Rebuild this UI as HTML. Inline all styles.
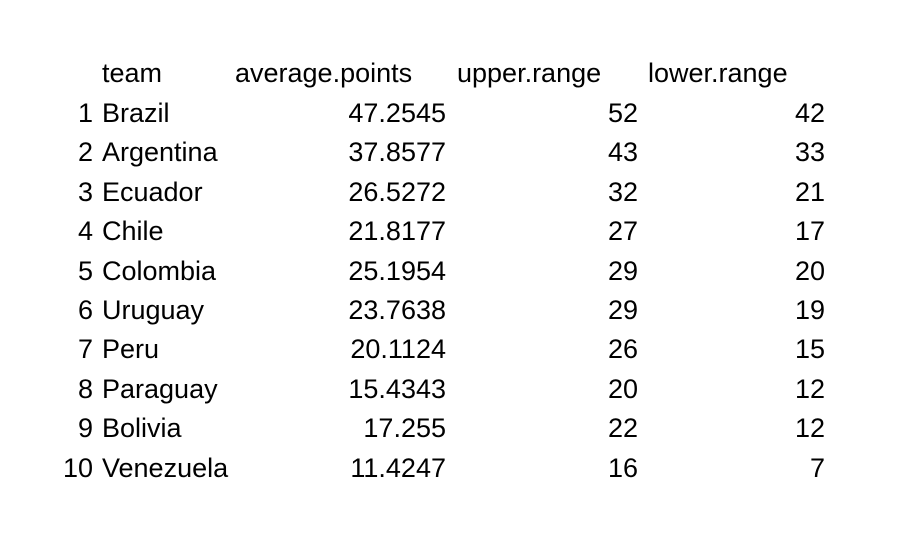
<!DOCTYPE html>
<html><head><meta charset="utf-8">
<style>
html,body{margin:0;padding:0;background:#fff;}
#wrap{position:relative;width:903px;height:535px;overflow:hidden;background:#fff;font-family:"Liberation Sans",sans-serif;font-size:27px;color:#000;}
.c{position:absolute;height:30px;line-height:30px;white-space:nowrap;}
.r{text-align:right;}
</style></head>
<body>
<div id="wrap"></div>
<script>
const teams=["Brazil","Argentina","Ecuador","Chile","Colombia","Uruguay","Peru","Paraguay","Bolivia","Venezuela"];
const avgPoints=["47.2545","37.8577","26.5272","21.8177","25.1954","23.7638","20.1124","15.4343","17.255","11.4247"];
const upperRange=["52","43","32","27","29","29","26","20","22","16"];
const lowerRange=["42","33","21","17","20","19","15","12","12","7"];
const headers=["team","average.points","upper.range","lower.range"];
const wrap=document.getElementById('wrap');
function cell(txt,x,yc,right,name){
  const d=document.createElement('div');
  d.className='c'+(right?' r':'');
  d.textContent=txt;
  d.style.top=(yc-15)+'px';
  if(right){d.style.right=(903-x)+'px';}else{d.style.left=x+'px';}
  
  
  wrap.appendChild(d);
}
const hx=[102,235,457,648];
headers.forEach((h,i)=>cell(h,hx[i],73,false,'header-'+h.replace('.','-')));
teams.forEach((t,i)=>{
  const y=113+i*39.4;
  cell(String(i+1),93,y,true,'row-number-'+(i+1));
  cell(t,102,y,false,'team-'+t.toLowerCase());
  cell(avgPoints[i],446,y,true,'average-points-'+t.toLowerCase());
  cell(upperRange[i],638,y,true,'upper-range-'+t.toLowerCase());
  cell(lowerRange[i],825,y,true,'lower-range-'+t.toLowerCase());
});
</script>
</body></html>
